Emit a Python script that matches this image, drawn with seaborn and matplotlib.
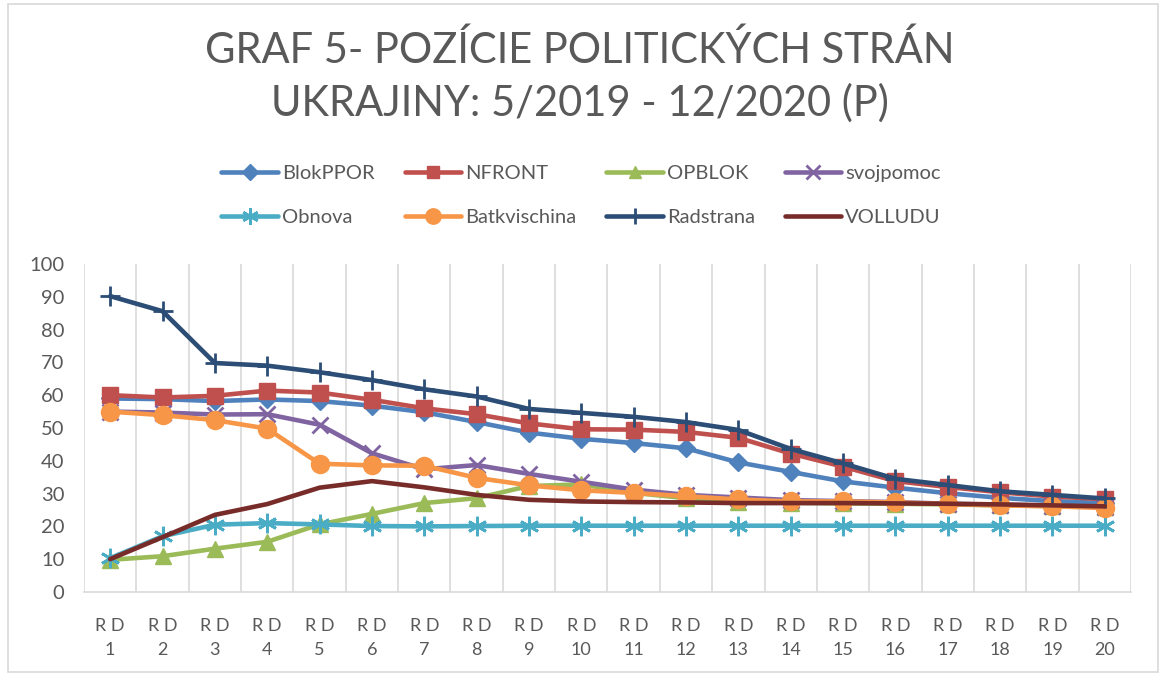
import pandas as pd
import matplotlib
matplotlib.use('Agg')
import matplotlib.pyplot as plt
import matplotlib.patches as mpatches
from matplotlib.lines import Line2D
import seaborn as sns

# Data
kola = ['RD 1', 'RD 2', 'RD 3', 'RD 4', 'RD 5', 'RD 6', 'RD 7', 'RD 8', 'RD 9', 'RD 10',
        'RD 11', 'RD 12', 'RD 13', 'RD 14', 'RD 15', 'RD 16', 'RD 17', 'RD 18', 'RD 19', 'RD 20']
BlokPPOR = [59.0, 58.8, 58.2, 58.7, 58.2, 56.8, 54.8, 51.8, 48.6, 46.7,
            45.4, 43.8, 39.5, 36.6, 33.7, 31.8, 30.1, 28.7, 27.7, 27.1]
NFRONT = [60.0, 59.3, 59.8, 61.4, 60.8, 58.6, 56.0, 54.2, 51.4, 49.6,
          49.5, 48.8, 47.0, 42.2, 38.2, 33.8, 32.0, 30.4, 29.1, 28.3]
OPBLOK = [9.8, 10.9, 13.2, 15.3, 20.6, 23.8, 27.1, 28.6, 32.3, 32.8,
          30.2, 28.6, 27.4, 27.2, 27.0, 26.9, 26.7, 26.4, 26.2, 25.9]
svojpomoc = [55.0, 54.7, 54.1, 54.2, 51.0, 42.3, 37.4, 38.7, 36.0, 33.6,
             31.2, 29.6, 28.8, 28.0, 27.7, 27.4, 26.9, 26.6, 26.3, 25.9]
Obnova = [10.3, 17.0, 20.5, 21.0, 20.6, 20.1, 20.0, 20.1, 20.2, 20.2,
          20.2, 20.2, 20.2, 20.2, 20.2, 20.2, 20.2, 20.2, 20.2, 20.2]
Batkvischina = [55.0, 53.9, 52.4, 49.8, 39.1, 38.6, 38.5, 34.8, 32.5, 31.0,
                30.2, 29.2, 28.2, 27.6, 27.6, 27.3, 26.8, 26.4, 26.1, 25.6]
Radstrana = [90.2, 85.6, 69.8, 69.0, 67.0, 64.6, 61.8, 59.6, 55.8, 54.6,
             53.4, 51.8, 49.4, 43.6, 39.2, 34.5, 32.6, 30.7, 29.6, 28.5]
VOLLUDU = [10.0, 16.7, 23.5, 26.8, 31.8, 33.8, 31.9, 29.6, 28.1, 27.6,
           27.4, 27.3, 27.1, 27.1, 27.1, 27.0, 26.9, 26.7, 26.4, 26.1]

strany = {
    'BlokPPOR': BlokPPOR, 'NFRONT': NFRONT, 'OPBLOK': OPBLOK, 'svojpomoc': svojpomoc,
    'Obnova': Obnova, 'Batkvischina': Batkvischina, 'Radstrana': Radstrana, 'VOLLUDU': VOLLUDU,
}

# Styl jednotlivych serii (farba, marker, velkost)
styly = {
    'BlokPPOR': ('#4F81BD', 'D', 9),
    'NFRONT': ('#C0504D', 's', 11),
    'OPBLOK': ('#9BBB59', '^', 11),
    'svojpomoc': ('#8064A2', 'x', 12),
    'Obnova': ('#4BACC6', (6, 2, 0), 14),
    'Batkvischina': ('#F79646', 'o', 13),
    'Radstrana': ('#2C4D75', '+', 14),
    'VOLLUDU': ('#772C2A', None, 0),
}

df = pd.DataFrame({'kolo': kola * len(strany),
                   'strana': [s for s in strany for _ in kola],
                   'hodnota': [v for s in strany for v in strany[s]]})
df['pos'] = df['kolo'].map({k: i for i, k in enumerate(kola)})

sns.set_theme(style='white')
plt.rcParams['font.family'] = ['Lato', 'DejaVu Sans']
sivy = '#595959'

fig = plt.figure(figsize=(11.6, 6.76), dpi=100)
ax = fig.add_axes([0.0724, 0.1243, 0.9026, 0.4852])

handles = []
for s in strany:
    farba, marker, ms = styly[s]
    sub = df[df['strana'] == s]
    mew = 2 if marker in ('x', '+', (6, 2, 0)) else 1
    sns.lineplot(data=sub, x='pos', y='hodnota', ax=ax, color=farba, linewidth=3.3,
                 marker=marker, markersize=ms, markeredgecolor=farba,
                 markeredgewidth=mew, legend=False)
    handles.append(Line2D([], [], color=farba, linewidth=3.3, marker=marker,
                          markersize=ms * 0.85, markeredgecolor=farba,
                          markeredgewidth=mew, label=s))

ax.set_xlim(-0.5, len(kola) - 0.5)
ax.set_ylim(0, 100)
ax.set_yticks(range(0, 101, 10))
ax.set_xticks(range(len(kola)))
ax.set_xticklabels([k.replace('RD ', 'R D\n') for k in kola], fontsize=13,
                   color=sivy, linespacing=1.55)
ax.tick_params(axis='y', labelsize=14.5, labelcolor=sivy, length=0, pad=14)
ax.tick_params(axis='x', length=0, pad=19)
ax.set_xlabel('')
ax.set_ylabel('')

# zvisle mriezky medzi kategoriami
ax.set_xticks([i + 0.5 for i in range(-1, len(kola))], minor=True)
ax.grid(False)
ax.grid(True, axis='x', which='minor', color='#d9d9d9', linewidth=1.2)
ax.set_axisbelow(True)
for side in ['left', 'right', 'top']:
    ax.spines[side].set_visible(False)
ax.spines['bottom'].set_color('#d9d9d9')
ax.spines['bottom'].set_linewidth(1.2)

# legenda po riadkoch (4 stlpce)
poradie = [0, 4, 1, 5, 2, 6, 3, 7]
fig.legend([handles[i] for i in poradie], [handles[i].get_label() for i in poradie],
           ncol=4, loc='center', bbox_to_anchor=(0.501, 0.711), frameon=False,
           fontsize=14.5, labelcolor=sivy, handlelength=2.8, columnspacing=1.5,
           handletextpad=0.2, labelspacing=1.35)

fig.text(0.5, 0.926, 'GRAF 5- POZÍCIE POLITICKÝCH STRÁN', ha='center', va='center',
         fontsize=30, color=sivy)
fig.text(0.5, 0.848, 'UKRAJINY: 5/2019 - 12/2020 (P)', ha='center', va='center',
         fontsize=30, color=sivy)

# ramcek grafu
fig.patches.append(mpatches.Rectangle((0.007, 0.006), 0.991, 0.988, transform=fig.transFigure,
                                      fill=False, edgecolor='#d9d9d9', linewidth=1.2))

plt.savefig('out.png', dpi=100)
